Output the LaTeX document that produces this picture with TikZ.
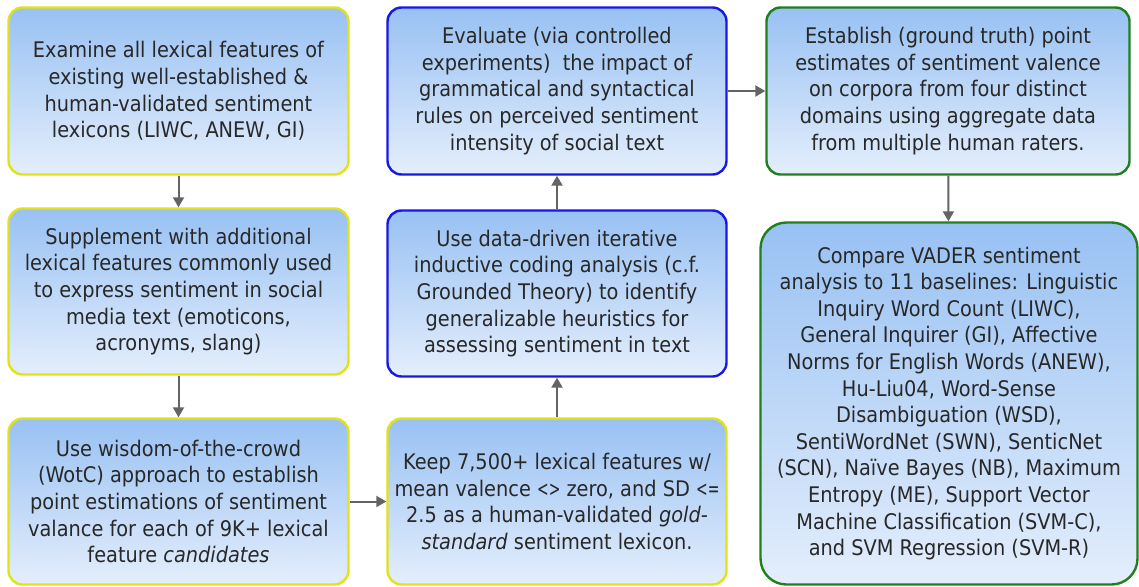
\documentclass[tikz,border=0pt]{standalone}
\usepackage{fontspec}
\setmainfont{DejaVu Sans Condensed}
\usetikzlibrary{arrows.meta}

\definecolor{edgeyellow}{RGB}{226,226,24}
\definecolor{edgeblue}{RGB}{24,24,228}
\definecolor{edgegreen}{RGB}{32,128,32}
\definecolor{filltop}{RGB}{152,193,243}
\definecolor{fillbottom}{RGB}{228,238,252}
\definecolor{flowgray}{RGB}{100,100,100}
\definecolor{inkgray}{RGB}{40,40,40}

% narrower comparison signs
\newcommand{\cmpsign}[1]{\scalebox{0.72}[1]{#1}}

\tikzset{
  card/.style={draw=#1, line width=2.4pt, rounded corners=14pt,
    top color=filltop, bottom color=fillbottom,
    align=center, inner sep=0pt, text=inkgray,
    font=\fontsize{21.5}{26.6}\selectfont},
  flow/.style={draw=flowgray, line width=2pt,
    -{Triangle[length=10pt,width=11pt]}}
}

\begin{document}
\begin{tikzpicture}[x=1pt,y=-1pt]
\useasboundingbox (0,0) rectangle (1139,586);

% left column: lexicon construction
\node[card=edgeyellow, minimum width=340pt, minimum height=167pt] (a1) at (178.5,91)
  {Examine all lexical features of\\existing well-established \&\\human-validated sentiment\\lexicons (LIWC, ANEW, GI)};
\node[card=edgeyellow, minimum width=340pt, minimum height=166pt] (a2) at (178.5,291.5)
  {Supplement with additional\\lexical features commonly used\\to express sentiment in social\\media text (emoticons,\\acronyms, slang)};
\node[card=edgeyellow, minimum width=340pt, minimum height=166pt] (a3) at (178.5,501.5)
  {Use wisdom-of-the-crowd\\(WotC) approach to establish\\point estimations of sentiment\\valance for each of 9K+ lexical\\feature \textit{candidates}};

% middle column: rules and heuristics
\node[card=edgeblue, minimum width=339pt, minimum height=167pt] (b1) at (557,91)
  {Evaluate (via controlled\\experiments)\ \ the impact of\\grammatical and syntactical\\rules on perceived sentiment\\intensity of social text};
\node[card=edgeblue, minimum width=339pt, minimum height=166pt] (b2) at (557,293.5)
  {Use data-driven iterative\\inductive coding analysis (c.f.\\Grounded Theory) to identify\\generalizable heuristics for\\assessing sentiment in text};
\node[card=edgeyellow, minimum width=339pt, minimum height=166pt] (b3) at (557,501.5)
  {Keep 7,500+ lexical features w/\\mean valence \cmpsign{<}\cmpsign{>} zero, and SD \cmpsign{<}\cmpsign{=}\\2.5 as a human-validated \textit{gold-}\\\textit{standard} sentiment lexicon.};

% right column: evaluation
\node[card=edgegreen, minimum width=363pt, minimum height=167pt] (c1) at (948,91)
  {Establish (ground truth) point\\estimates of sentiment valence\\on corpora from four distinct\\domains using aggregate data\\from multiple human raters.};
\node[card=edgegreen, rounded corners=26pt, minimum width=377pt, minimum height=362pt] (c2) at (949,403.5)
  {Compare VADER sentiment\\analysis to 11 baselines: Linguistic\\Inquiry Word Count (LIWC),\\General Inquirer (GI), Affective\\Norms for English Words (ANEW),\\Hu-Liu04, Word-Sense\\Disambiguation (WSD),\\SentiWordNet (SWN), SenticNet\\(SCN), Naïve Bayes (NB), Maximum\\Entropy (ME), Support Vector\\Machine Classification (SVM-C),\\and SVM Regression (SVM-R)};

% connectors
\draw[flow] (a1) -- (a2);
\draw[flow] (a2) -- (a3);
\draw[flow] (a3) -- (b3);
\draw[flow] (b3) -- (b2);
\draw[flow] (b2) -- (b1);
\draw[flow] (b1) -- (c1);
\draw[flow] (c1) -- (c2);
\end{tikzpicture}
\end{document}
